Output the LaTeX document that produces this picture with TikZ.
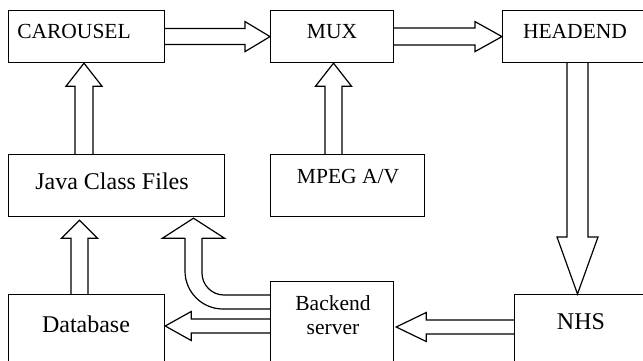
\documentclass[tikz,border=0pt]{standalone}
\usepackage{fontspec}
\setmainfont{Liberation Serif}
\usetikzlibrary{calc}
\begin{document}
\begin{tikzpicture}[x=1pt,y=-1pt,
  box/.style={draw, line width=1.2pt, inner sep=0pt, anchor=north west},
  lbl/.style={anchor=base, inner sep=0pt, font=\fontsize{21.5}{24}\selectfont},
  biglbl/.style={anchor=base, inner sep=0pt, font=\fontsize{24}{28}\selectfont},
  fat/.style={draw, line width=1.2pt, line join=miter}]
\useasboundingbox (0,0) rectangle (643,361);
\clip (0,0) rectangle (643,361);
% boxes
\node[box, minimum width=156pt, minimum height=52pt] (carousel) at (8,10) {};
\node[box, minimum width=123pt, minimum height=52pt] (mux) at (270,10) {};
\node[box, minimum width=160pt, minimum height=52pt] (headend) at (502,10) {};
\node[box, minimum width=216pt, minimum height=62pt] (java) at (8,154) {};
\node[box, minimum width=154pt, minimum height=62pt] (mpeg) at (270,154) {};
\node[box, minimum width=156pt, minimum height=90pt] (database) at (8,294) {};
\node[box, minimum width=123pt, minimum height=100pt] (backend) at (270,281) {};
\node[box, minimum width=148pt, minimum height=90pt] (nhs) at (514,294) {};
% labels
\node[lbl] (tcar) at (74,39) {CAROUSEL};
\node[lbl] (tmux) at (332,39) {MUX};
\node[lbl] (thead) at (575,39) {HEADEND};
\node[biglbl] (tjava) at (112,189) {Java Class Files};
\node[lbl] (tmpeg) at (348,183) {MPEG A/V};
\node[biglbl] (tdb) at (86,332) {Database};
\node[lbl] (tback) at (333,310) {Backend};
\node[lbl] (tserv) at (333,334) {server};
\node[biglbl] (tnhs) at (581,329) {NHS};
% CAROUSEL -> MUX
\draw[fat] ($(carousel.east)+(0,-8)$) -- ($(mux.west)+(-25,-8)$) -- ($(mux.west)+(-25,-15)$)
  -- (mux.west) -- ($(mux.west)+(-25,15)$) -- ($(mux.west)+(-25,8)$) -- ($(carousel.east)+(0,8)$);
% MUX -> HEADEND
\draw[fat] ($(mux.east)+(0,-8.5)$) -- ($(headend.west)+(-27,-8.5)$) -- ($(headend.west)+(-27,-15)$)
  -- (headend.west) -- ($(headend.west)+(-27,15)$) -- ($(headend.west)+(-27,8.5)$) -- ($(mux.east)+(0,8.5)$);
% HEADEND -> NHS
\coordinate (hs) at ($(headend.south west)+(75.5,0)$);
\coordinate (nt) at ($(nhs.north west)+(63.5,0)$);
\draw[fat] ($(hs)+(-10.5,0)$) -- ($(nt)+(-10.5,-57)$) -- ($(nt)+(-20.5,-57)$) -- (nt)
  -- ($(nt)+(20.5,-57)$) -- ($(nt)+(10.5,-57)$) -- ($(hs)+(10.5,0)$);
% NHS -> Backend
\coordinate (ns) at ($(nhs.north west)+(0,33)$);
\coordinate (bt) at ($(backend.north east)+(2,46)$);
\draw[fat] ($(ns)+(0,-7)$) -- ($(bt)+(30,-7)$) -- ($(bt)+(30,-14.5)$) -- (bt)
  -- ($(bt)+(30,14.5)$) -- ($(bt)+(30,7)$) -- ($(ns)+(0,7)$);
% Backend -> Database
\coordinate (bs) at ($(backend.north west)+(0,45)$);
\coordinate (dt) at ($(database.north east)+(0,32)$);
\draw[fat] ($(bs)+(0,-7)$) -- ($(dt)+(26,-7)$) -- ($(dt)+(26,-14.5)$) -- (dt)
  -- ($(dt)+(26,14.5)$) -- ($(dt)+(26,7)$) -- ($(bs)+(0,7)$);
% Database -> Java
\coordinate (ds) at ($(database.north west)+(71.5,0)$);
\coordinate (jt) at ($(java.south west)+(71.5,3)$);
\draw[fat] ($(ds)+(-8.5,0)$) -- ($(jt)+(-8.5,18)$) -- ($(jt)+(-18,18)$) -- (jt)
  -- ($(jt)+(18,18)$) -- ($(jt)+(8.5,18)$) -- ($(ds)+(8.5,0)$);
% Java -> CAROUSEL
\coordinate (js) at ($(java.north west)+(76,0)$);
\coordinate (ct) at ($(carousel.south west)+(76,0)$);
\draw[fat] ($(js)+(-9,0)$) -- ($(ct)+(-9,23)$) -- ($(ct)+(-18,23)$) -- (ct)
  -- ($(ct)+(18,23)$) -- ($(ct)+(9,23)$) -- ($(js)+(9,0)$);
% MPEG -> MUX
\coordinate (ms) at ($(mpeg.north west)+(63.5,0)$);
\coordinate (mt) at ($(mux.south west)+(63.5,0)$);
\draw[fat] ($(ms)+(-8.5,0)$) -- ($(mt)+(-8.5,23)$) -- ($(mt)+(-18,23)$) -- (mt)
  -- ($(mt)+(18,23)$) -- ($(mt)+(8.5,23)$) -- ($(ms)+(8.5,0)$);
% Backend -> Java (curved)
\coordinate (bw) at ($(backend.north west)+(0,21)$);
\coordinate (jb) at ($(java.south west)+(185.5,1)$);
\draw[fat, rounded corners=38pt] ($(bw)+(0,7)$) -| ($(jb)+(-8.5,20)$);
\draw[fat] ($(jb)+(-8.5,20)$) -- ($(jb)+(-31,20)$) -- (jb) -- ($(jb)+(31,20)$) -- ($(jb)+(8.5,20)$);
\draw[fat, rounded corners=22pt] ($(jb)+(8.5,20)$) |- ($(bw)+(0,-7)$);
\end{tikzpicture}
\end{document}
